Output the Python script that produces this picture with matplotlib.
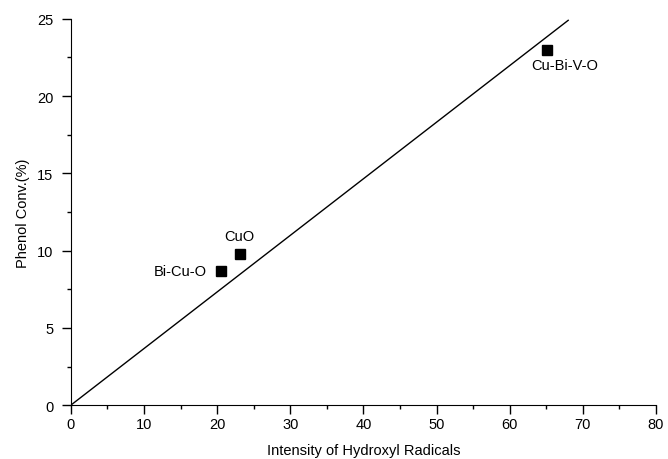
import matplotlib
matplotlib.use('Agg')
import matplotlib.pyplot as plt
from matplotlib.ticker import MultipleLocator

plt.rcParams['font.family'] = ['Liberation Sans', 'DejaVu Sans']

# samples
names = ['Bi-Cu-O', 'CuO', 'Cu-Bi-V-O']
intensity = [20.5, 23.1, 65.1]
phenol_conv = [8.7, 9.8, 23.0]

# fitted line end points
fit_x = [0, 68.0]
fit_y = [0, 24.9]

fs = 10.5

fig = plt.figure(figsize=(6.68, 4.6), dpi=100)
ax = fig.add_axes([0.106, 0.117, 0.876, 0.840])

ax.plot(fit_x, fit_y, color='black', linewidth=1.0)
ax.plot(intensity, phenol_conv, 's', color='black', markersize=7, linestyle='none')

# labels next to the points
ax.annotate(names[0], (intensity[0], phenol_conv[0]), xytext=(-10, 0),
            textcoords='offset points', ha='right', va='center', fontsize=fs)
ax.annotate(names[1], (intensity[1], phenol_conv[1]), xytext=(0, 7.5),
            textcoords='offset points', ha='center', va='bottom', fontsize=fs)
ax.annotate(names[2], (intensity[2], phenol_conv[2]), xytext=(13, -6),
            textcoords='offset points', ha='center', va='top', fontsize=fs)

ax.set_xlim(0, 80)
ax.set_ylim(0, 25)
ax.xaxis.set_major_locator(MultipleLocator(10))
ax.xaxis.set_minor_locator(MultipleLocator(5))
ax.yaxis.set_major_locator(MultipleLocator(5))
ax.yaxis.set_minor_locator(MultipleLocator(2.5))
ax.tick_params(which='major', direction='out', length=6.5, width=1, labelsize=fs)
ax.tick_params(axis='y', which='major', pad=6)
ax.tick_params(axis='x', which='major', pad=2)
ax.tick_params(which='minor', direction='out', length=3, width=1)

ax.spines['top'].set_visible(False)
ax.spines['right'].set_visible(False)

ax.set_xlabel('Intensity of Hydroxyl Radicals', fontsize=fs, labelpad=9)
ax.set_ylabel('Phenol Conv.(%)', fontsize=fs, labelpad=5)

fig.savefig('out.png', dpi=100)
